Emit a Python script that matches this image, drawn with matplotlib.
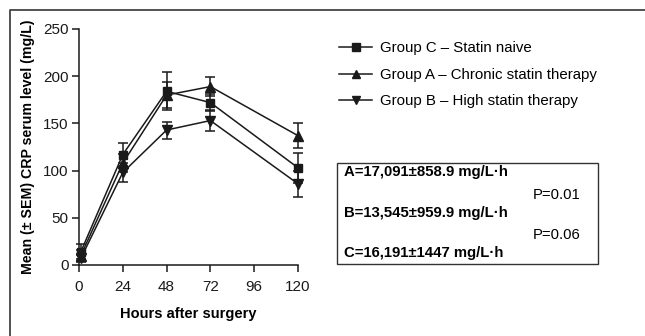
import matplotlib
matplotlib.use("Agg")
import matplotlib.pyplot as plt
from matplotlib.lines import Line2D
from matplotlib.patches import Rectangle

plt.rcParams['font.family'] = ['Liberation Sans', 'DejaVu Sans']

hours = [1, 24, 48, 72, 120]
group_c = [14, 117, 184, 172, 103]
group_c_err = [8, 12, 20, 9, 16]
group_a = [10, 108, 180, 189, 137]
group_a_err = [6, 10, 14, 10, 13]
group_b = [7, 98, 143, 153, 86]
group_b_err = [4, 10, 9, 11, 14]
labels = ["Group C \u2013 Statin naive",
          "Group A \u2013 Chronic statin therapy",
          "Group B \u2013 High statin therapy"]
xticks = [0, 24, 48, 72, 96, 120]
yticks = [0, 50, 100, 150, 200, 250]
box_lines = ["A=17,091\u00b1858.9 mg/L\u00b7h", "P=0.01",
             "B=13,545\u00b1959.9 mg/L\u00b7h", "P=0.06",
             "C=16,191\u00b11447 mg/L\u00b7h"]

W, H = 645, 336
fig = plt.figure(figsize=(W / 100, H / 100), dpi=100)
ax = fig.add_axes([79 / W, (H - 265) / H, (298 - 79) / W, (265 - 29) / H])

series = [(group_c, group_c_err, 's', 6), (group_a, group_a_err, '^', 6.5), (group_b, group_b_err, 'v', 6.5)]
handles = []
for (vals, errs, mk, ms), lab in zip(series, labels):
    eb = ax.errorbar(hours, vals, yerr=errs, color='#1a1a1a', marker=mk, ms=ms,
                     lw=1.1, elinewidth=1.1, capsize=3.5, capthick=1.1, zorder=3)
    for child in eb.get_children():
        child.set_clip_on(False)
    handles.append(Line2D([], [], color='#1a1a1a', marker=mk, ms=ms - 0.5, lw=1.1))

ax.set_xlim(0, 120)
ax.set_ylim(0, 250)
ax.set_xticks(xticks)
ax.set_yticks(yticks)
ax.spines['top'].set_visible(False)
ax.spines['right'].set_visible(False)
for s in ('left', 'bottom'):
    ax.spines[s].set_linewidth(1.1)
    ax.spines[s].set_color('#1a1a1a')
ax.tick_params(direction='out', length=5, width=1.1, labelsize=11, colors='#1a1a1a', pad=2.5)
ax.tick_params(axis='x', pad=6)
ax.set_xlabel("Hours after surgery", fontsize=10.5, fontweight='bold', labelpad=9)
ax.set_ylabel("Mean (\u00b1 SEM) CRP serum level (mg/L)", fontsize=10.2, fontweight='bold', labelpad=6)

leg = fig.legend(handles, labels, loc='upper left', bbox_to_anchor=(333 / W, 1 - 35 / H),
                 frameon=False, fontsize=10.8, handlelength=2.2, handletextpad=0.5,
                 labelspacing=0.85, borderaxespad=0)

# summary box
fig.patches.append(Rectangle((337 / W, 1 - 264 / H), (598 - 337) / W, (264 - 163) / H,
                             transform=fig.transFigure, fill=False, ec='#333333', lw=1.0))
ys = [172, 195, 213, 235, 253]
for i, (t, y) in enumerate(zip(box_lines, ys)):
    if t.startswith("P="):
        fig.text(581 / W, 1 - y / H, t, ha='right', va='center', fontsize=10.7)
    else:
        fig.text(344 / W, 1 - y / H, t, ha='left', va='center', fontsize=10.7, fontweight='bold')

# outer frame
fig.add_artist(Line2D([10 / W, 10 / W, 1], [0, 1 - 10 / H, 1 - 10 / H],
                      transform=fig.transFigure, color='#444444', lw=1.3))

fig.savefig("out.png", dpi=100)
